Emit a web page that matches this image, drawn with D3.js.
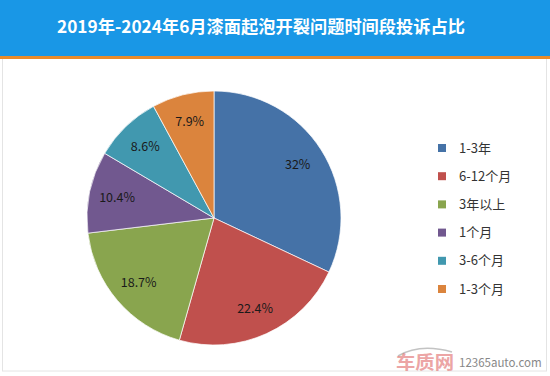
<!DOCTYPE html>
<html><head><meta charset="utf-8">
<script src="https://cdn.jsdelivr.net/npm/d3@7"></script>
<style>body{margin:0;background:#fff}svg{display:block}</style>
</head><body>
<script>
const title = "2019年-2024年6月漆面起泡开裂问题时间段投诉占比";
const categories = ["1-3年","6-12个月","3年以上","1个月","3-6个月","1-3个月"];
const values = [32, 22.4, 18.7, 10.4, 8.6, 7.9];
const labels = ["32%","22.4%","18.7%","10.4%","8.6%","7.9%"];
const colors = ["#4572a7","#c0504d","#89a54e","#71588f","#4198af","#db843d"];

const W = 550, H = 376;
const svg = d3.select("body").append("svg").attr("width", W).attr("height", H);
const font = "'Noto Sans CJK SC','Microsoft YaHei',sans-serif";

svg.append("rect").attr("width", W).attr("height", H).attr("fill", "#fff");
// outer light border
svg.append("rect").attr("x", 2.5).attr("y", 58).attr("width", W - 6).attr("height", H - 63)
  .attr("fill", "none").attr("stroke", "#e4e4e4");
// header
svg.append("rect").attr("x", 0).attr("y", 0).attr("width", W).attr("height", 56).attr("fill", "#1997e6");
svg.append("rect").attr("x", 0).attr("y", 56).attr("width", W).attr("height", 3).attr("fill", "#e98b2a");
svg.append("text").attr("x", 57).attr("y", 33).attr("text-anchor", "start")
  .attr("textLength", 408).attr("lengthAdjust", "spacingAndGlyphs")
  .attr("fill", "#fff").attr("font-family", font).attr("font-weight", "bold").attr("font-size", 17.3)
  .text(title);

const cx = 214, cy = 218, r = 127;
const pie = d3.pie().sort(null).value(d => d)(values);
const arc = d3.arc().innerRadius(0).outerRadius(r);
const labelArc = d3.arc().innerRadius(r * 0.78).outerRadius(r * 0.78);
const g = svg.append("g").attr("transform", `translate(${cx},${cy})`);
g.selectAll("path").data(pie).join("path")
  .attr("d", arc).attr("fill", (d, i) => colors[i])
  .attr("stroke", "#fff").attr("stroke-width", 0.7);
g.selectAll("text").data(pie).join("text")
  .attr("transform", d => `translate(${labelArc.centroid(d)})`)
  .attr("text-anchor", "middle").attr("dy", "0.35em")
  .attr("font-family", font).attr("font-size", 12.5).attr("fill", "#1a1a1a")
  .text((d, i) => labels[i]);

// legend
const ly = d3.scalePoint().domain(categories).range([148, 289]);
const lg = svg.append("g");
categories.forEach((c, i) => {
  lg.append("rect").attr("x", 438).attr("y", ly(c) - 4).attr("width", 8).attr("height", 8).attr("fill", colors[i]);
  lg.append("text").attr("x", 459).attr("y", ly(c)).attr("dy", "0.35em")
    .attr("font-family", font).attr("font-size", 13).attr("fill", "#333").text(c);
});

// watermark
svg.append("path").attr("d", "M398,356 Q420,343 452,352").attr("fill", "none")
  .attr("stroke", "#aaa").attr("stroke-width", 1.5).attr("opacity", 0.7);
svg.append("text").attr("x", 396).attr("y", 369).attr("textLength", 58).attr("lengthAdjust", "spacingAndGlyphs")
  .attr("font-family", font).attr("font-weight", "bold").attr("font-size", 18)
  .attr("fill", "#e06a6a").attr("opacity", 0.6).text("车质网");
svg.append("text").attr("x", 459).attr("y", 367)
  .attr("font-family", font).attr("font-size", 11.5).attr("fill", "#888").text("12365auto.com");
</script>
</body></html>
